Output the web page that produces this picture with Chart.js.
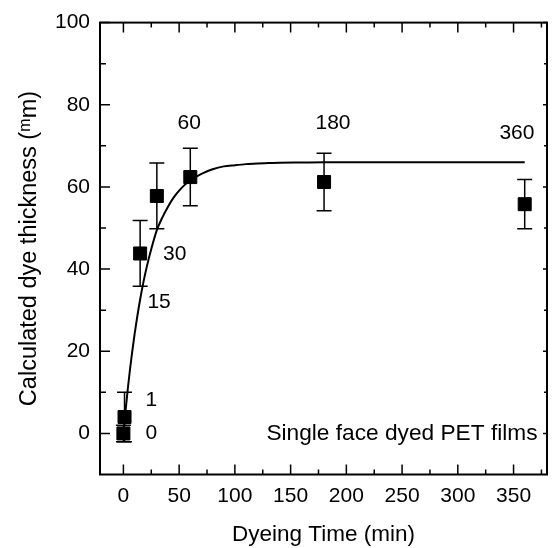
<!DOCTYPE html>
<html>
<head>
<meta charset="utf-8">
<script src="https://cdn.jsdelivr.net/npm/chart.js@4/dist/chart.umd.min.js"></script>
<style>
body { margin: 0; background: #fff; }
</style>
</head>
<body>
<canvas id="dyeChart" width="558" height="548"></canvas>
<script>
// measured points (dyeing time in min, thickness, +/- error)
const times = [0, 1, 15, 30, 60, 180, 360];
const thickness = [0, 4, 43.8, 57.8, 62.4, 61.2, 55.8];
const errors = [2, 6, 8, 8, 7, 7, 6];

// text next to each point, placed in data units
const pointLabels = ['0', '1', '15', '30', '60', '180', '360'];
const labelX = [25, 25, 32, 46, 59, 188, 353];
const labelY = [0, 8, 32, 43.7, 75.5, 75.5, 73];

// fitted curve
const fitTimes = [0, 2, 4, 6, 8, 10, 12, 15, 18, 21, 25, 30, 35, 40, 45, 50, 55, 60, 70, 80, 90, 100, 110, 120, 130, 140, 160, 180, 200, 250, 300, 360];
const fitValues = [0, 5.7, 11.0, 15.8, 20.1, 24.1, 27.7, 32.6, 36.9, 40.6, 44.9, 49.5, 52.6, 55.2, 57.4, 59.1, 60.5, 61.6, 63.2, 64.3, 65.0, 65.3, 65.55, 65.7, 65.8, 65.9, 65.95, 66.0, 66.0, 66.0, 66.0, 66.0];

const xTicks = [0, 50, 100, 150, 200, 250, 300, 350];
const xMinor = [25, 75, 125, 175, 225, 275, 325, 375];
const yTicks = [0, 20, 40, 60, 80, 100];
const yMinor = [10, 30, 50, 70, 90];

const FONT = "'Liberation Sans', Arial, sans-serif";

/* -------- frame, inward ticks, error bars, labels -------- */
const framePlugin = {
    id: 'frame',
    beforeDatasetsDraw(chart) {
        const ctx = chart.ctx;
        const xs = chart.scales.x, ys = chart.scales.y;
        ctx.save();
        ctx.strokeStyle = '#000';
        ctx.lineWidth = 1.5;
        times.forEach((t, i) => {
            const px = xs.getPixelForValue(t);
            const top = ys.getPixelForValue(thickness[i] + errors[i]);
            const bot = ys.getPixelForValue(thickness[i] - errors[i]);
            ctx.beginPath();
            ctx.moveTo(px, top); ctx.lineTo(px, bot);
            ctx.moveTo(px - 7.5, top); ctx.lineTo(px + 7.5, top);
            ctx.moveTo(px - 7.5, bot); ctx.lineTo(px + 7.5, bot);
            ctx.stroke();
        });
        ctx.restore();
    },
    afterDraw(chart) {
        const ctx = chart.ctx;
        const a = chart.chartArea;
        const xs = chart.scales.x, ys = chart.scales.y;
        ctx.save();
        ctx.strokeStyle = '#000';
        ctx.lineWidth = 2;
        ctx.strokeRect(a.left, a.top, a.right - a.left, a.bottom - a.top);

        ctx.lineWidth = 1.5;
        ctx.beginPath();
        const xTick = (v, len, lenTop) => {
            const p = xs.getPixelForValue(v);
            ctx.moveTo(p, a.bottom); ctx.lineTo(p, a.bottom - len);
            ctx.moveTo(p, a.top); ctx.lineTo(p, a.top + lenTop);
        };
        const yTick = (v, len, lenRight) => {
            const p = ys.getPixelForValue(v);
            ctx.moveTo(a.left, p); ctx.lineTo(a.left + len, p);
            ctx.moveTo(a.right, p); ctx.lineTo(a.right - lenRight, p);
        };
        xTicks.forEach(v => xTick(v, 10, 10));
        xMinor.forEach(v => xTick(v, 5, 5));
        yTicks.forEach(v => yTick(v, 10, 4));
        yMinor.forEach(v => yTick(v, 6, 3));
        ctx.stroke();

        ctx.fillStyle = '#000';
        ctx.textAlign = 'center';
        ctx.textBaseline = 'middle';
        ctx.font = '21px ' + FONT;
        pointLabels.forEach((txt, i) => {
            ctx.fillText(txt, xs.getPixelForValue(labelX[i]), ys.getPixelForValue(labelY[i]));
        });

        ctx.font = '22.7px ' + FONT;
        ctx.textAlign = 'right';
        ctx.fillText('Single face dyed PET films', xs.getPixelForValue(371.5), ys.getPixelForValue(0));
        ctx.restore();
    }
};

const ctx = document.getElementById('dyeChart').getContext('2d');
new Chart(ctx, {
    data: {
        datasets: [
            {
                type: 'line',
                data: fitTimes.map((t, i) => ({ x: t, y: fitValues[i] })),
                borderColor: '#000',
                borderWidth: 2,
                pointRadius: 0,
                cubicInterpolationMode: 'monotone',
                fill: false,
                order: 2
            },
            {
                type: 'scatter',
                data: times.map((t, i) => ({ x: t, y: thickness[i] })),
                pointStyle: 'rect',
                pointRadius: 9.2,
                backgroundColor: '#000',
                borderColor: '#000',
                borderWidth: 1,
                order: 1
            }
        ]
    },
    options: {
        responsive: false,
        animation: false,
        layout: { padding: { top: 17, right: 11, left: 0, bottom: 0 } },
        plugins: { legend: { display: false }, tooltip: { enabled: false } },
        scales: {
            x: {
                type: 'linear',
                min: -21,
                max: 380,
                afterBuildTicks: s => { s.ticks = xTicks.map(v => ({ value: v })); },
                afterFit: s => { s.height = 73.5; },
                grid: { display: false, drawTicks: false },
                border: { display: false },
                ticks: { color: '#000', font: { family: FONT, size: 21 }, padding: 9, maxRotation: 0 },
                title: { display: true, text: 'Dyeing Time (min)', color: '#000', font: { family: FONT, size: 22.5 }, padding: { top: 0, bottom: 0 } }
            },
            y: {
                type: 'linear',
                min: -10,
                max: 100,
                afterBuildTicks: s => { s.ticks = yTicks.map(v => ({ value: v })); },
                afterFit: s => { s.width = 100; },
                grid: { display: false, drawTicks: false },
                border: { display: false },
                ticks: { color: '#000', font: { family: FONT, size: 21 }, padding: 10 },
                title: { display: true, text: 'Calculated dye thickness (\u1D50m)', color: '#000', font: { family: FONT, size: 23.5 }, padding: { top: 15, bottom: 0 } }
            }
        }
    },
    plugins: [framePlugin]
});
</script>
</body>
</html>
